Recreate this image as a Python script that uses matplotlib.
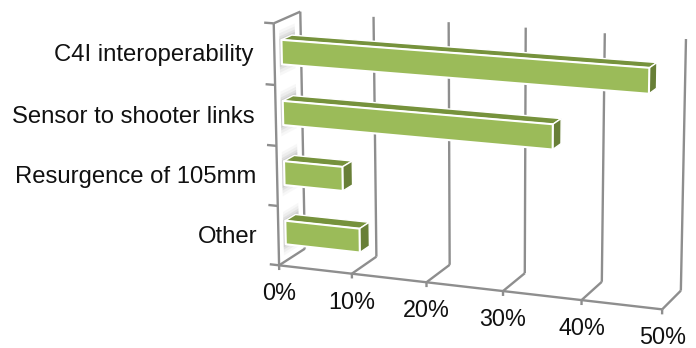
import numpy as np
import matplotlib
matplotlib.use('Agg')
from matplotlib import pyplot as plt
from matplotlib.patches import Polygon

plt.rcParams['font.family'] = ['Liberation Sans', 'DejaVu Sans']

categories = ['C4I interoperability', 'Sensor to shooter links', 'Resurgence of 105mm', 'Other']
values = [47.3, 35.5, 8, 10.2]
x_ticks = [0, 10, 20, 30, 40, 50]
x_tick_labels = ['0%', '10%', '20%', '30%', '40%', '50%']

GRID = '#8e8e8e'
FRONT = '#9bbb59'
TOP = '#76923c'
SIDE = '#687f37'

# box corners (value, height, depth) and where they land on the canvas
world = np.array([[0, 0, 0], [50, 0, 0], [0, 4, 0], [0, 0, 1],
                  [50, 0, 1], [0, 4, 1], [50, 4, 1]], float)
canvas = np.array([[279, 266], [662, 309], [274, 23], [305, 248],
                   [681, 291], [300, 12], [686, 39]], float)

# direct linear transform for the perspective of the chart box
rows = []
rhs = []
for (a, b, c), (u, v) in zip(world, canvas):
    rows.append([a, b, c, 1, 0, 0, 0, 0, -u * a, -u * b, -u * c])
    rows.append([0, 0, 0, 0, a, b, c, 1, -v * a, -v * b, -v * c])
    rhs += [u, v]
cam = np.linalg.lstsq(np.array(rows), np.array(rhs), rcond=None)[0]
cam = np.append(cam, 1).reshape(3, 4)


def proj(x, y, z):
    p = cam @ np.array([x, y, z, 1.0])
    return p[0] / p[2], p[1] / p[2]


fig = plt.figure(figsize=(6.96, 3.48), dpi=100)
ax = fig.add_axes([0, 0, 1, 1])
ax.set_xlim(0, 696)
ax.set_ylim(348, 0)
ax.axis('off')


def line(p, q, lw=1.7, z=1):
    ax.plot([p[0], q[0]], [p[1], q[1]], color=GRID, lw=lw, solid_capstyle='butt', zorder=z)


# walls and floor
for t in x_ticks:
    line(proj(t, 0, 1), proj(t, 4, 1))
    line(proj(t, 0, 0), proj(t, 0, 1))
    line(proj(t, 0, 0), proj(t, -0.08, 0))
line(proj(0, 0, 0), proj(50, 0, 0))
line(proj(0, 0, 0), proj(0, 4, 0))
line(proj(0, 4, 0), proj(0, 4, 1))
for h in range(5):
    line(proj(0, h, 0), proj(-1.3, h, 0))

# bars, top category first
bar_lo, bar_hi = 0.28, 0.68
z0, z1 = 0.27, 0.66
for i, (name, val) in enumerate(zip(categories, values)):
    base = 3 - i
    y0, y1 = base + bar_lo, base + bar_hi
    zo = 3 + i
    # soft reflection on the left wall
    for grow, alpha in [(0.17, 0.06), (0.12, 0.08), (0.07, 0.12), (0.03, 0.16)]:
        shadow = [proj(0, y1 + grow, z0 - 0.08), proj(0, y1 + grow, z1 + 0.12),
                  proj(0, y0 - grow, z1 + 0.12), proj(0, y0 - grow, z0 - 0.08)]
        ax.add_patch(Polygon(shadow, fc='#808080', ec='none', alpha=alpha, zorder=zo))
    top = [proj(0, y1, z0), proj(val, y1, z0), proj(val, y1, z1), proj(0, y1, z1)]
    side = [proj(val, y0, z0), proj(val, y1, z0), proj(val, y1, z1), proj(val, y0, z1)]
    front = [proj(0, y0, z0), proj(val, y0, z0), proj(val, y1, z0), proj(0, y1, z0)]
    ax.add_patch(Polygon(top, fc=TOP, ec='white', lw=1.0, joinstyle='round', zorder=zo))
    ax.add_patch(Polygon(side, fc=SIDE, ec='white', lw=1.0, joinstyle='round', zorder=zo))
    ax.add_patch(Polygon(front, fc=FRONT, ec='white', lw=1.5, joinstyle='round', zorder=zo))
    px, py = proj(0, base + 0.5, 0)
    ax.text(px - 21, py + 1, name, ha='right', va='center', fontsize=17.2, color='#111111')

for t, lab in zip(x_ticks, x_tick_labels):
    px, py = proj(t, 0, 0)
    ax.text(px, py + 35, lab, ha='center', va='baseline', fontsize=16.8, color='#111111')

fig.savefig('out.png', dpi=100)
